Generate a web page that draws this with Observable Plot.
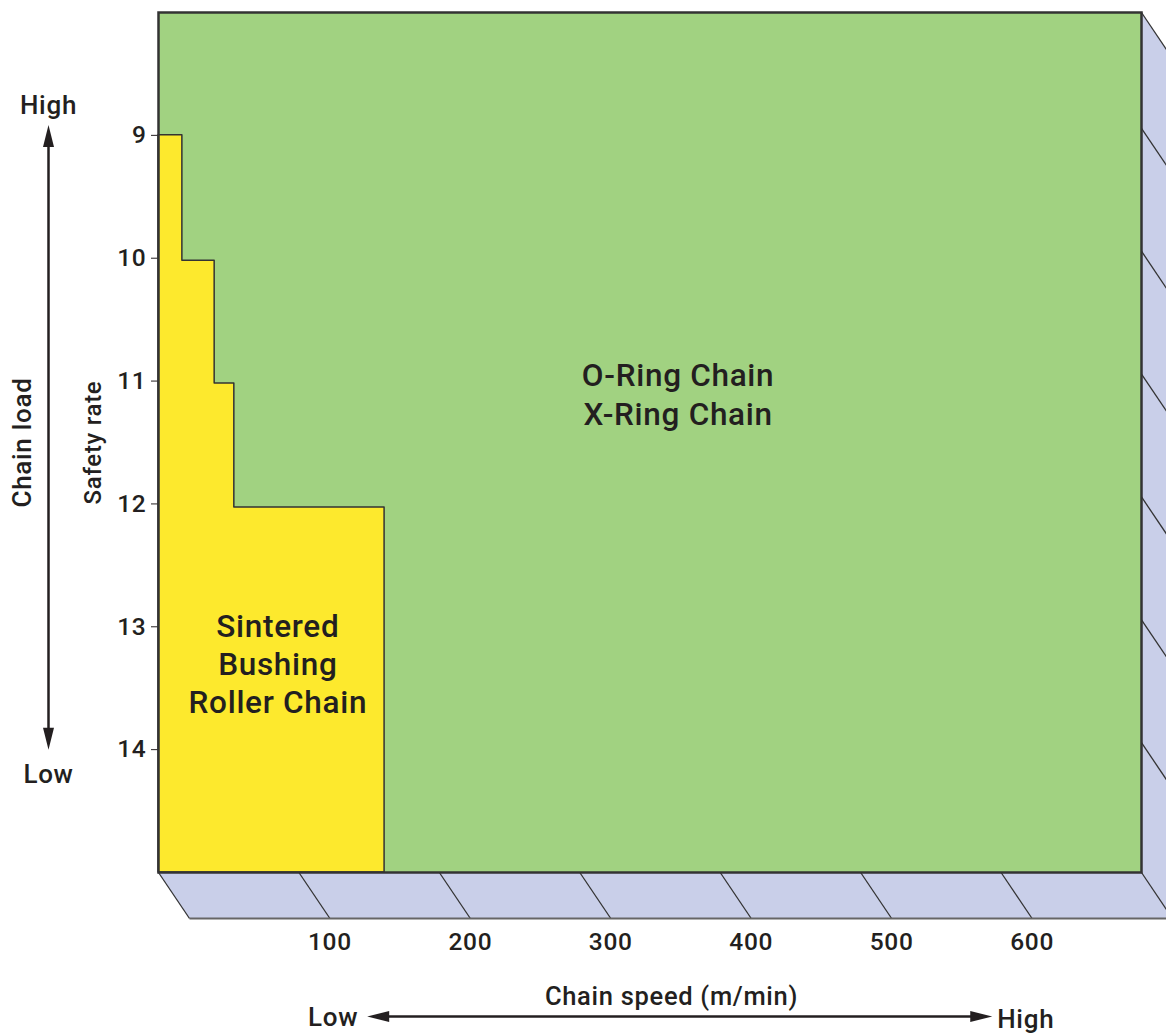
<!DOCTYPE html>
<html>
<head>
<meta charset="utf-8">
<script src="https://cdn.jsdelivr.net/npm/d3@7"></script>
<script src="https://cdn.jsdelivr.net/npm/@observablehq/plot@0.6"></script>
<style>
  html, body { margin: 0; padding: 0; background: #fff; overflow: hidden; }
</style>
</head>
<body>
<div id="chart"></div>
<script>
// ---- data ----
const speedTicks = [100, 200, 300, 400, 500, 600];
const speedGrid = [0, 100, 200, 300, 400, 500, 600, 700];
const rateTicks = [9, 10, 11, 12, 13, 14];
// sintered bushing roller chain boundary (safety rate vs max chain speed)
const stepRate = [9, 10.02, 11.02, 12.03, 15];
const stepSpeed = [17, 40, 54, 161, 161];
const regionOring = "O-Ring Chain\nX-Ring Chain";
const regionSintered = "Sintered\nBushing\nRoller Chain";
const xTitle = "Chain speed (m/min)";
const yTitle = "Safety rate";
const loadTitle = "Chain load";

// ---- layout ----
const W = 1166, H = 1034;
const mL = 158, mR = 25, mT = 12, mB = 162;
const xDom = [0, 700], yDom = [8, 15];
const pxX = (W - mL - mR) / (xDom[1] - xDom[0]);
const pxY = (H - mT - mB) / (yDom[1] - yDom[0]);
// perspective depth of floor / wall, in pixels -> data units
const DX = 31 / pxX, DY = 46 / pxY;

const green = "#a1d281", yellow = "#fde92d", lav = "#c9cfe9", ink = "#231f20", edge = "#333333";

const stepData = stepRate.map((r, i) => ({rate: r, speed: stepSpeed[i]}));
const floorPoly = [
  {x: xDom[0], y: yDom[1]}, {x: xDom[1], y: yDom[1]},
  {x: xDom[1] + DX, y: yDom[1] + DY}, {x: xDom[0] + DX, y: yDom[1] + DY}
];
const wallPoly = [
  {x: xDom[1], y: yDom[0]}, {x: xDom[1] + 2 * DX, y: yDom[0] + 2 * DY},
  {x: xDom[1] + 2 * DX, y: yDom[1] + 2 * DY}, {x: xDom[1], y: yDom[1]}
];

const arrowHead = {
  draw(ctx) {
    ctx.moveTo(0, 0);
    ctx.lineTo(-5.5, 22);
    ctx.lineTo(5.5, 22);
    ctx.closePath();
  }
};

const vA = {y1: 8.916, y2: 14};       // vertical arrow extent
const hA = {x1: 148.6, x2: 593.7};    // horizontal arrow extent

const chart = Plot.plot({
  width: W, height: H,
  marginLeft: mL, marginRight: mR, marginTop: mT, marginBottom: mB,
  style: {fontFamily: "Roboto, 'Liberation Sans', sans-serif", fontSize: "24.5px", fontWeight: "500", letterSpacing: "0.7px", color: ink, background: "#fff", overflow: "hidden"},
  x: {domain: xDom, axis: null},
  y: {domain: yDom, reverse: true, ticks: rateTicks, tickSize: 7, tickPadding: 5, label: null, tickFormat: d => d},
  marks: [
    Plot.frame({fill: green}),
    Plot.areaX(stepData, {y: "rate", x1: 0, x2: "speed", curve: "step-before", fill: yellow, stroke: edge, strokeWidth: 1.5}),
    Plot.line(floorPoly, {x: "x", y: "y", fill: lav, stroke: "none"}),
    Plot.line(wallPoly, {x: "x", y: "y", fill: lav, stroke: "none"}),
    // floor divisions
    Plot.link(speedGrid, {x1: d => d, y1: yDom[1], x2: d => d + DX, y2: yDom[1] + DY, stroke: edge, strokeWidth: 1.3}),
    // wall divisions
    Plot.link(rateTicks, {x1: xDom[1], y1: d => d, x2: xDom[1] + DX, y2: d => d + DY, dy: -7, stroke: edge, strokeWidth: 1.3}),
    Plot.link([yDom[0]], {x1: xDom[1], y1: d => d, x2: xDom[1] + DX, y2: d => d + DY, stroke: edge, strokeWidth: 1.3}),
    // floor bottom edge
    Plot.link([0], {x1: xDom[0] + DX, x2: xDom[1] + 2 * DX, y1: yDom[1] + DY, y2: yDom[1] + DY, stroke: "#666", strokeWidth: 2}),
    Plot.frame({stroke: edge, strokeWidth: 2.5}),
    // x tick labels (under the floor)
    Plot.text(speedTicks, {x: d => d, y: yDom[1], dx: DX * pxX, dy: 70, text: d => String(d), fontSize: 24.5, fill: ink}),
    // region labels
    Plot.text([regionOring], {x: 370, y: 11.1, text: d => d, fontSize: 31.5, lineHeight: 1.21, fill: ink}),
    Plot.text([regionSintered], {x: 85, y: 13.29, text: d => d, fontSize: 31.5, lineHeight: 1.21, fill: ink}),
    // axis titles
    Plot.text([xTitle], {x: 365.3, y: yDom[1], dy: 124, text: d => d, fontSize: 25.5, fill: ink}),
    Plot.text([yTitle], {x: 0, y: 11.5, dx: -65, rotate: -90, text: d => d, fontSize: 24, fill: ink}),
    Plot.text([loadTitle], {x: 0, y: 11.5, dx: -136, rotate: -90, text: d => d, fontSize: 26, fill: ink}),
    // vertical load arrow
    Plot.ruleX([0], {x: 0, y1: vA.y1 + 0.1, y2: vA.y2 - 0.1, dx: -110, stroke: ink, strokeWidth: 2.5}),
    Plot.dot([vA.y1], {x: 0, y: d => d, dx: -110, symbol: arrowHead, fill: ink, stroke: "none"}),
    Plot.dot([vA.y2], {x: 0, y: d => d, dx: -110, symbol: arrowHead, rotate: 180, fill: ink, stroke: "none"}),
    Plot.text(["High"], {x: 0, y: vA.y1, dx: -110, dy: -19, text: d => d, fontSize: 26, fill: ink}),
    Plot.text(["Low"], {x: 0, y: vA.y2, dx: -110, dy: 25, text: d => d, fontSize: 26, fill: ink}),
    // horizontal speed arrow
    Plot.ruleY([0], {y: yDom[1], x1: hA.x1 + 10, x2: hA.x2 - 10, dy: 144, stroke: ink, strokeWidth: 2.5}),
    Plot.dot([hA.x1], {x: d => d, y: yDom[1], dy: 144, symbol: arrowHead, rotate: -90, fill: ink, stroke: "none"}),
    Plot.dot([hA.x2], {x: d => d, y: yDom[1], dy: 144, symbol: arrowHead, rotate: 90, fill: ink, stroke: "none"}),
    Plot.text(["Low"], {x: hA.x1, y: yDom[1], dx: -9, dy: 145, textAnchor: "end", text: d => d, fontSize: 26, fill: ink}),
    Plot.text(["High"], {x: hA.x2, y: yDom[1], dx: 5, dy: 147, textAnchor: "start", text: d => d, fontSize: 26, fill: ink})
  ]
});
document.getElementById("chart").appendChild(chart);
</script>
</body>
</html>
